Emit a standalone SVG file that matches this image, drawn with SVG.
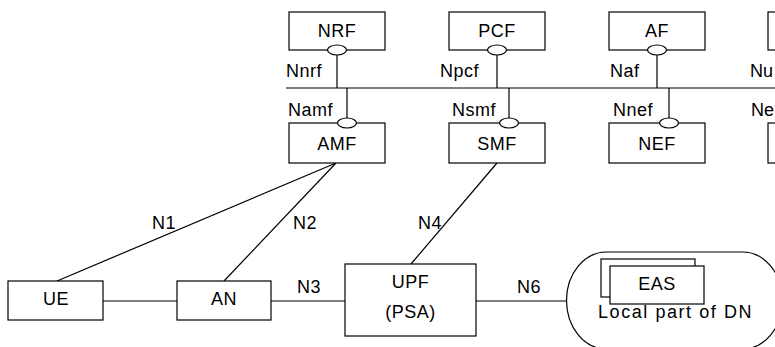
<svg xmlns="http://www.w3.org/2000/svg" width="775" height="347" viewBox="0 0 775 347">
<style>
.box{fill:#fff;stroke:#000;stroke-width:1.2}
.ln{fill:none;stroke:#000;stroke-width:1.2}
.sap{fill:#fff;stroke:#000;stroke-width:1.2}
text{font-family:"Liberation Sans",Arial,sans-serif;font-size:18px;letter-spacing:0.5px;fill:#000}
.c{text-anchor:middle}
.edge{letter-spacing:0}
</style>
<rect width="775" height="347" fill="#fff"/>
<g id="connectors">
  <line class="ln" x1="286" y1="88" x2="775" y2="88"/>
  <line class="ln" x1="337" y1="55" x2="337" y2="88"/>
  <line class="ln" x1="497" y1="55" x2="497" y2="88"/>
  <line class="ln" x1="657" y1="55" x2="657" y2="88"/>
  <line class="ln" x1="347" y1="88" x2="347" y2="118"/>
  <line class="ln" x1="509" y1="88" x2="509" y2="118"/>
  <line class="ln" x1="669" y1="88" x2="669" y2="118"/>
  <line class="ln" x1="57" y1="281" x2="336" y2="163"/>
  <line class="ln" x1="224" y1="281" x2="336" y2="163"/>
  <line class="ln" x1="497" y1="163" x2="411" y2="264"/>
  <line class="ln" x1="103" y1="301" x2="177" y2="301"/>
  <line class="ln" x1="271" y1="301" x2="345" y2="301"/>
  <line class="ln" x1="476" y1="301" x2="566.5" y2="301"/>
  <text x="286" y="77">Nnrf</text>
  <text x="440" y="77">Npcf</text>
  <text x="610" y="77">Naf</text>
  <text class="edge" x="750" y="77">Nu</text>
  <text x="288" y="116">Namf</text>
  <text x="452" y="116">Nsmf</text>
  <text x="613" y="116">Nnef</text>
  <text class="edge" x="751" y="116">Ne</text>
  <text x="152" y="229">N1</text>
  <text x="293" y="229">N2</text>
  <text x="297" y="293">N3</text>
  <text x="418" y="229">N4</text>
  <text x="517" y="293">N6</text>
</g>
<g id="NRF"><rect class="box" x="289" y="12" width="96" height="38"/><text class="c" x="337" y="37">NRF</text><ellipse class="sap" cx="337" cy="50" rx="9.5" ry="5"/></g>
<g id="PCF"><rect class="box" x="449" y="12" width="96" height="38"/><text class="c" x="497" y="37">PCF</text><ellipse class="sap" cx="497" cy="50" rx="9.5" ry="5"/></g>
<g id="AF"><rect class="box" x="609" y="12" width="96" height="38"/><text class="c" x="657" y="37">AF</text><ellipse class="sap" cx="657" cy="50" rx="9.5" ry="5"/></g>
<g id="UDM"><rect class="box" x="768" y="12" width="96" height="38"/></g>
<g id="AMF"><rect class="box" x="289" y="123" width="96" height="40"/><text class="c" x="337" y="150">AMF</text><ellipse class="sap" cx="347" cy="123" rx="9.5" ry="5"/></g>
<g id="SMF"><rect class="box" x="449" y="123" width="96" height="40"/><text class="c" x="497" y="150">SMF</text><ellipse class="sap" cx="509" cy="123" rx="9.5" ry="5"/></g>
<g id="NEF"><rect class="box" x="609" y="123" width="96" height="40"/><text class="c" x="657" y="150">NEF</text><ellipse class="sap" cx="669" cy="123" rx="9.5" ry="5"/></g>
<g id="X"><rect class="box" x="768" y="123" width="96" height="40"/></g>
<g id="UE"><rect class="box" x="8" y="281" width="95" height="39"/><text class="c" x="56" y="305">UE</text></g>
<g id="AN"><rect class="box" x="177" y="281" width="94" height="39"/><text class="c" x="224" y="305">AN</text></g>
<g id="UPF"><rect class="box" x="345" y="264" width="131" height="72"/><text class="c" x="410.5" y="288">UPF</text><text class="c" x="410.5" y="318">(PSA)</text></g>
<g id="DN"><rect class="box" x="566.5" y="252" width="216" height="97" rx="40" ry="48.5"/><text x="598" y="318" textLength="154">Local part of DN</text></g>
<g id="EAS"><rect class="box" x="601" y="259" width="94" height="38"/><rect class="box" x="610" y="266" width="94" height="38"/><text class="c" x="657" y="290">EAS</text></g>
</svg>
